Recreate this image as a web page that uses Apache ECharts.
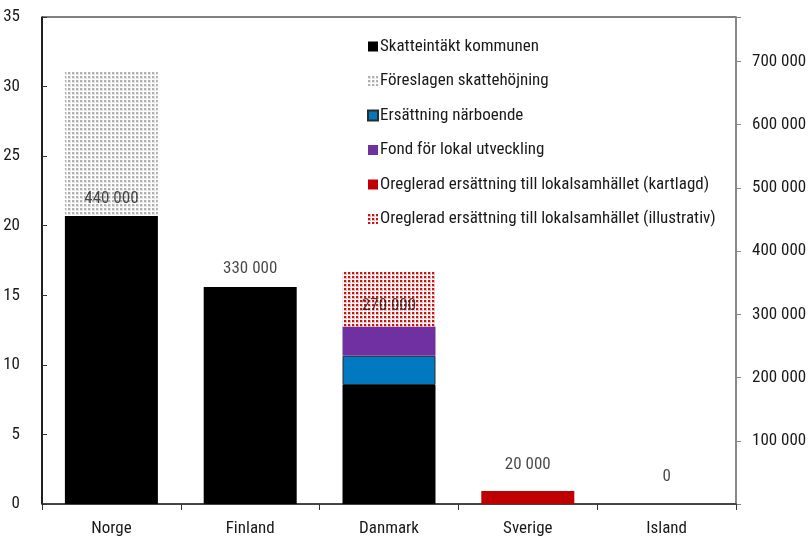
<!DOCTYPE html>
<html><head><meta charset="utf-8">
<script src="https://cdn.jsdelivr.net/npm/echarts@6/dist/echarts.min.js"></script>
<style>html,body{margin:0;padding:0;background:#fff}#c{width:808px;height:537px}</style>
</head><body><div id="c"></div>
<script>
const categories = ['Norge', 'Finland', 'Danmark', 'Sverige', 'Island'];
const skatteintakt = [20.7, 15.6, 8.55, 0, 0];
const foreslagen = [10.35, 0, 0, 0, 0];
const ersattning = [0, 0, 2.1, 0, 0];
const fond = [0, 0, 2.1, 0, 0];
const oregleradKartlagd = [0, 0, 0, 0.93, 0];
const oregleradIllustrativ = [0, 0, 4.0, 0, 0];
const totalLabels = [440000, 330000, 270000, 20000, 0];
const seriesNames = ['Skatteintäkt kommunen', 'Föreslagen skattehöjning', 'Ersättning närboende', 'Fond för lokal utveckling', 'Oreglerad ersättning till lokalsamhället (kartlagd)', 'Oreglerad ersättning till lokalsamhället (illustrativ)'];
const leftTicks = {min: 0, max: 35, interval: 5};
const rightTicks = {min: 0, max: 770000, interval: 100000};

const FONT = "'Roboto Condensed', 'Liberation Sans Narrow', sans-serif";
const FS = 17;
const TXT = '#1a1a1a';
function pat(dot, halo, bg) {
  const c = document.createElement('canvas'); c.width = 4; c.height = 4;
  const g = c.getContext('2d'); g.fillStyle = bg; g.fillRect(0, 0, 4, 4);
  g.fillStyle = halo; g.fillRect(0, 0, 3, 3);
  g.fillStyle = dot; g.fillRect(0, 0, 2, 2); return c;
}
const grayPat = {image: pat('#b0b0b0', '#e4e4e4', '#ffffff'), repeat: 'repeat'};
const redPat = {image: pat('#d01010', '#f2b8b8', '#ffffff'), repeat: 'repeat'};
function fmt(v) { return String(v).replace(/\B(?=(\d{3})+(?!\d))/g, ' '); }

const chart = echarts.init(document.getElementById('c'), null, {renderer: 'canvas'});
function bar(name, data, style) {
  return {name, type: 'bar', stack: 'a', data: data.map(v => v === 0 ? null : v), barWidth: '67%',
    itemStyle: style, emphasis: {disabled: true}};
}
chart.setOption({
  animation: false,
  textStyle: {fontFamily: FONT},
  grid: {left: 42, right: 72, top: 17, bottom: 33, show: true, borderColor: '#000', borderWidth: 1, outerBoundsMode: 'none'},
  legend: {
    orient: 'vertical', left: 362, top: 33, itemWidth: 10, itemHeight: 10, itemGap: 17.5,
    icon: 'rect', data: seriesNames,
    textStyle: {fontFamily: FONT, fontSize: FS, color: TXT, padding: [0, 0, 0, -3]}
  },
  xAxis: {
    type: 'category', data: categories,
    axisLine: {lineStyle: {color: '#333', width: 1.5}},
    axisTick: {show: true, length: 6, lineStyle: {color: '#333'}},
    axisLabel: {fontFamily: FONT, fontSize: FS, color: TXT, margin: 16}
  },
  yAxis: [{
    type: 'value', min: leftTicks.min, max: leftTicks.max, interval: leftTicks.interval,
    axisLine: {show: true, lineStyle: {color: '#000', width: 1.5}},
    axisTick: {show: true, inside: true, length: 5, lineStyle: {color: '#333'}},
    splitLine: {show: false},
    axisLabel: {fontFamily: FONT, fontSize: FS, color: TXT, margin: 22}
  }, {
    type: 'value', min: rightTicks.min, max: rightTicks.max, interval: rightTicks.interval,
    position: 'right',
    axisLine: {show: true, lineStyle: {color: '#888', width: 2}},
    axisTick: {show: true, length: 5, lineStyle: {color: '#888'}},
    splitLine: {show: false},
    axisLabel: {fontFamily: FONT, fontSize: FS, color: TXT, margin: 16,
      formatter: v => (v === 0 || v % 100000 !== 0) ? '' : fmt(v)}
  }],
  series: [
    bar(seriesNames[0], skatteintakt, {color: '#000000'}),
    bar(seriesNames[1], foreslagen, {color: grayPat}),
    bar(seriesNames[2], ersattning, {color: '#0079C1', borderColor: '#2b2b2b', borderWidth: 1}),
    bar(seriesNames[3], fond, {color: '#7030A0'}),
    bar(seriesNames[4], oregleradKartlagd, {color: '#C00000'}),
    bar(seriesNames[5], oregleradIllustrativ, {color: redPat}),
    {
      type: 'scatter', yAxisIndex: 1, data: totalLabels, symbolSize: 1, silent: true,
      itemStyle: {color: 'rgba(0,0,0,0)'},
      label: {show: true, position: 'top', distance: 18, fontFamily: FONT, fontSize: FS, color: TXT,
        formatter: p => fmt(p.value)},
      z: 10
    }
  ]
});
</script></body></html>
